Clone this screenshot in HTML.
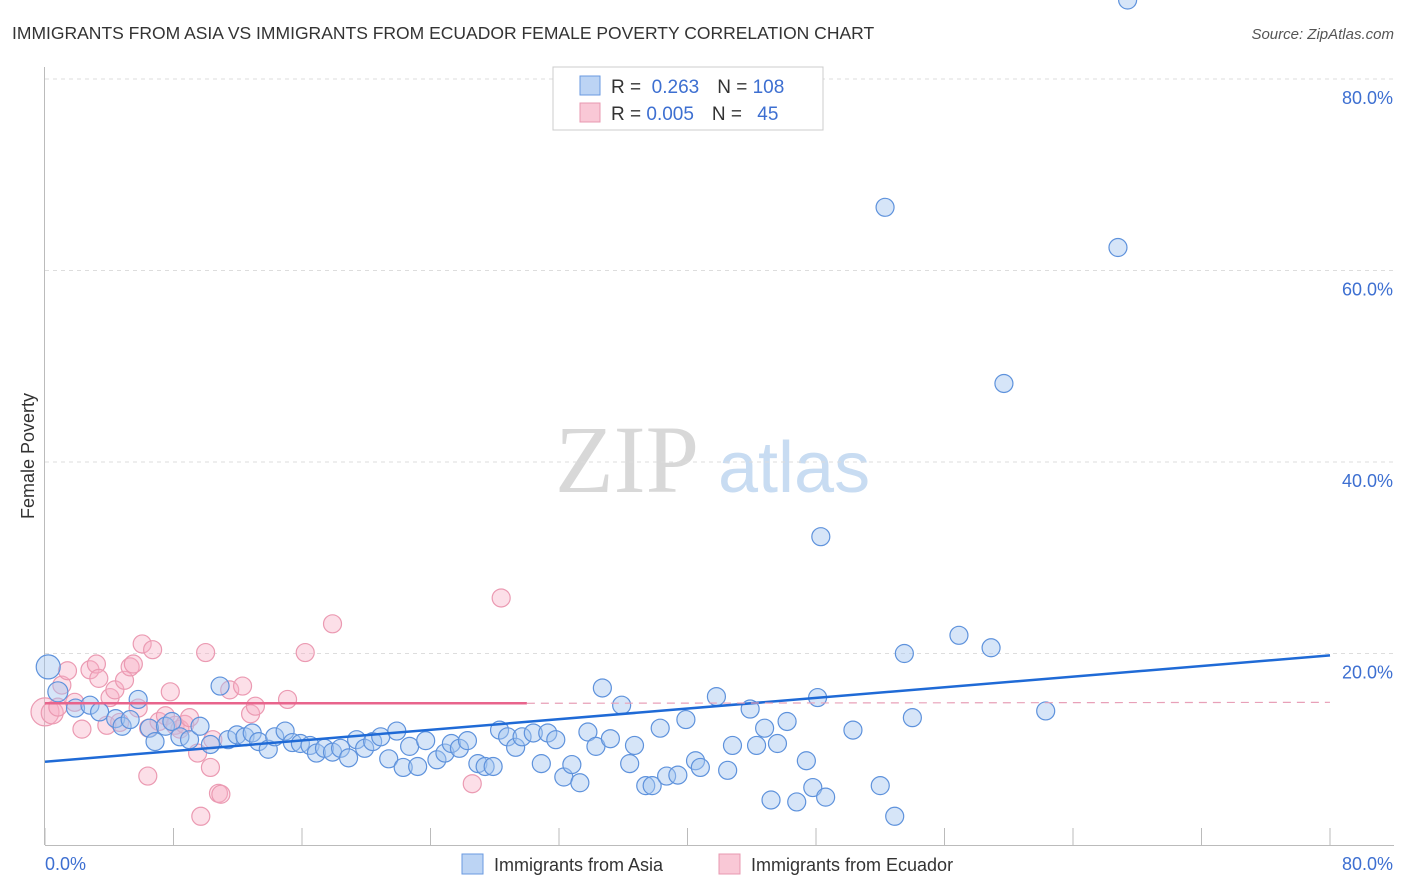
<!DOCTYPE html>
<html><head><meta charset="utf-8"><style>
body{margin:0;background:#fff;font-family:"Liberation Sans",sans-serif;}
#wrap{position:relative;width:1406px;height:892px;overflow:hidden;}
</style></head><body>
<div id="wrap">
<svg id="svg" width="1406" height="892" xmlns="http://www.w3.org/2000/svg">
<text x="12" y="39" font-size="17.5" fill="#333">IMMIGRANTS FROM ASIA VS IMMIGRANTS FROM ECUADOR FEMALE POVERTY CORRELATION CHART</text>
<text x="1394" y="39" font-size="15" fill="#555" font-style="italic" text-anchor="end">Source: ZipAtlas.com</text>
<text x="555" y="492" font-size="96" fill="#d8d8d8" font-family="Liberation Serif,serif">ZIP</text>
<text x="718" y="492" font-size="72" fill="#c8dcf2">atlas</text>
<g id="grid"></g><g id="pts"></g><g id="lines"></g>
<text transform="translate(34,456) rotate(-90)" font-size="18" fill="#333" text-anchor="middle">Female Poverty</text>
<text x="45" y="870" font-size="18" fill="#3d6fd1">0.0%</text>
<text x="1393" y="870" font-size="18" fill="#3d6fd1" text-anchor="end">80.0%</text>
<rect x="553" y="67" width="270" height="63" fill="#fff" stroke="#ccc"/>
<rect x="580" y="76" width="20" height="19" fill="#bcd4f4" stroke="#6a9ae0"/>
<rect x="580" y="103" width="20" height="19" fill="#f9c8d6" stroke="#e898b0"/>
<text x="611" y="93" font-size="19" fill="#333">R = <tspan fill="#3d6fd1">&#160;0.263</tspan><tspan dx="18">N = </tspan><tspan fill="#3d6fd1">108</tspan></text>
<text x="611" y="120" font-size="19" fill="#333">R = <tspan fill="#3d6fd1">0.005</tspan><tspan dx="18">N = </tspan><tspan fill="#3d6fd1" dx="10">45</tspan></text>
<rect x="462" y="854" width="21" height="20" fill="#bcd4f4" stroke="#6a9ae0"/>
<text x="494" y="871" font-size="18" fill="#333">Immigrants from Asia</text>
<rect x="719" y="854" width="21" height="20" fill="#f9c8d6" stroke="#e898b0"/>
<text x="751" y="871" font-size="18" fill="#333">Immigrants from Ecuador</text>
</svg>
</div>
<script>
const yTicks=[20,40,60,80];
const yTickLabels=["20.0%","40.0%","60.0%","80.0%"];
const xTicks=[0,8,16,24,32,40,48,56,64,72,80];
const asiaX=[0.2,0.8,1.9,2.8,3.4,4.4,4.8,5.3,5.8,6.5,6.85,7.5,7.9,8.4,9.0,9.65,10.3,10.9,11.4,11.95,12.45,12.9,13.3,13.9,14.3,14.95,15.4,15.9,16.5,16.9,17.4,17.9,18.4,18.9,19.4,19.9,20.4,20.9,21.4,21.9,22.3,22.7,23.2,23.7,24.4,24.9,25.3,25.8,26.3,26.95,27.4,27.9,28.3,28.8,29.3,29.7,30.4,30.9,31.3,31.8,32.3,32.8,33.3,33.8,34.3,34.7,35.2,35.9,36.4,36.7,37.4,37.8,38.3,38.7,39.4,39.9,40.5,40.8,41.8,42.5,42.8,43.9,44.3,44.8,45.2,45.6,46.2,46.8,47.4,47.8,48.3,48.1,48.6,50.3,52.0,52.3,52.9,53.5,54.0,56.9,58.9,59.7,62.3,66.8,67.4];
const asiaY=[18.6,16.0,14.3,14.6,13.9,13.2,12.4,13.1,15.2,12.2,10.8,12.4,12.9,11.3,11.0,12.4,10.5,16.6,11.0,11.5,11.3,11.7,10.8,10.0,11.3,11.9,10.7,10.6,10.4,9.6,10.1,9.7,10.1,9.1,11.0,10.1,10.8,11.3,9.0,11.9,8.1,10.3,8.2,10.9,8.9,9.6,10.6,10.1,10.9,8.5,8.2,8.2,12.0,11.3,10.2,11.3,11.7,8.5,11.7,11.0,7.1,8.4,6.5,11.8,10.3,16.4,11.1,14.6,8.5,10.4,6.2,6.2,12.2,7.2,7.3,13.1,8.8,8.1,15.5,7.8,10.4,14.2,10.4,12.2,4.7,10.6,12.9,4.5,8.8,6.0,32.2,15.4,5.0,12.0,6.2,66.6,3.0,20.0,13.3,21.9,20.6,48.2,14.0,62.4];
const asiaR=[12,10,9,9,9,9,9,9,9,9,9,9,9,9,9,9,9,9,9,9,9,9,9,9,9,9,9,9,9,9,9,9,9,9,9,9,9,9,9,9,9,9,9,9,9,9,9,9,9,9,9,9,9,9,9,9,9,9,9,9,9,9,9,9,9,9,9,9,9,9,9,9,9,9,9,9,9,9,9,9,9,9,9,9,9,9,9,9,9,9,9,9,9,9,9,9,9,9,9,9,9,9,9,9,9,9,9,9];
const ecuX=[0,0.45,0.8,1.05,1.4,1.85,2.3,2.8,3.2,3.35,3.85,4.05,4.35,4.65,4.95,5.3,5.5,5.8,6.05,6.45,6.7,7.1,7.5,7.8,8.1,8.4,8.7,9.0,9.5,10.0,10.3,10.45,10.8,10.95,11.5,12.3,12.8,13.1,15.1,16.2,17.9,26.6,28.4,9.7,6.4];
const ecuY=[13.9,13.8,14.4,16.7,18.2,14.9,12.1,18.3,18.9,17.4,12.5,15.4,16.2,12.8,17.2,18.6,18.9,14.3,21.0,12.2,20.4,12.9,13.5,16.0,12.5,12.1,12.6,13.3,9.6,20.1,8.1,11.0,5.4,5.3,16.2,16.6,13.7,14.5,15.2,20.1,23.1,6.4,25.8,3.0,7.2];
const ecuR=[14,11,9,9,9,9,9,9,9,9,9,9,9,9,9,9,9,9,9,9,9,9,9,9,9,9,9,9,9,9,9,9,9,9,9,9,9,9,9,9,9,9,9,9,9];
const asiaLine=[0,8.7,80,19.8];
const ecuLine=[0,14.8,30,14.8,80,14.9];
const X0=45,X1=1330,Y0=845,YT=79;
const sx=v=>X0+(X1-X0)*v/80;
const sy=v=>Y0-(Y0-YT)*v/80;
const NS="http://www.w3.org/2000/svg";
function mk(t,a,p){const e=document.createElementNS(NS,t);for(const k in a)e.setAttribute(k,a[k]);p.appendChild(e);return e;}
const grid=document.getElementById('grid'),pts=document.getElementById('pts'),lines=document.getElementById('lines');
yTicks.forEach((v,i)=>{
 const l=mk('line',{x1:45,x2:1394,y1:sy(v),y2:sy(v),stroke:'#ddd','stroke-dasharray':'4,4'},grid);
 
 
 const t=mk('text',{x:1393,y:sy(v)+25,'font-size':18,fill:'#3d6fd1','text-anchor':'end'},grid);
 t.textContent=yTickLabels[i];
 
 
});
const ax=mk('line',{x1:44.5,x2:44.5,y1:67,y2:845,stroke:'#bbb'},grid);


const bx=mk('line',{x1:45,x2:1394,y1:845.5,y2:845.5,stroke:'#bbb'},grid);


xTicks.forEach(v=>{
 const l=mk('line',{x1:sx(v),x2:sx(v),y1:828,y2:845,stroke:'#bbb'},grid);
 
 
});
ecuX.forEach((v,i)=>{
 const c=mk('circle',{cx:sx(v),cy:sy(ecuY[i]),r:ecuR[i],fill:'rgba(248,175,198,0.4)',stroke:'#eb9ab2','stroke-width':1.2},pts);
 
 
});
asiaX.forEach((v,i)=>{
 const c=mk('circle',{cx:sx(v),cy:sy(asiaY[i]),r:asiaR[i],fill:'rgba(165,198,240,0.45)',stroke:'#5e92dc','stroke-width':1.2},pts);
 
 
});
const la=mk('line',{x1:sx(asiaLine[0]),y1:sy(asiaLine[1]),x2:sx(asiaLine[2]),y2:sy(asiaLine[3]),stroke:'#1f6ad6','stroke-width':2.5},lines);


const le=mk('line',{x1:sx(ecuLine[0]),y1:sy(ecuLine[1]),x2:sx(ecuLine[2]),y2:sy(ecuLine[3]),stroke:'#e8648c','stroke-width':2.5},lines);


const ld=mk('line',{x1:sx(ecuLine[2]),y1:sy(ecuLine[3]),x2:sx(ecuLine[4]),y2:sy(ecuLine[5]),stroke:'#e8a0b8','stroke-width':1.2,'stroke-dasharray':'8,6'},lines);


</script>
</body></html>
